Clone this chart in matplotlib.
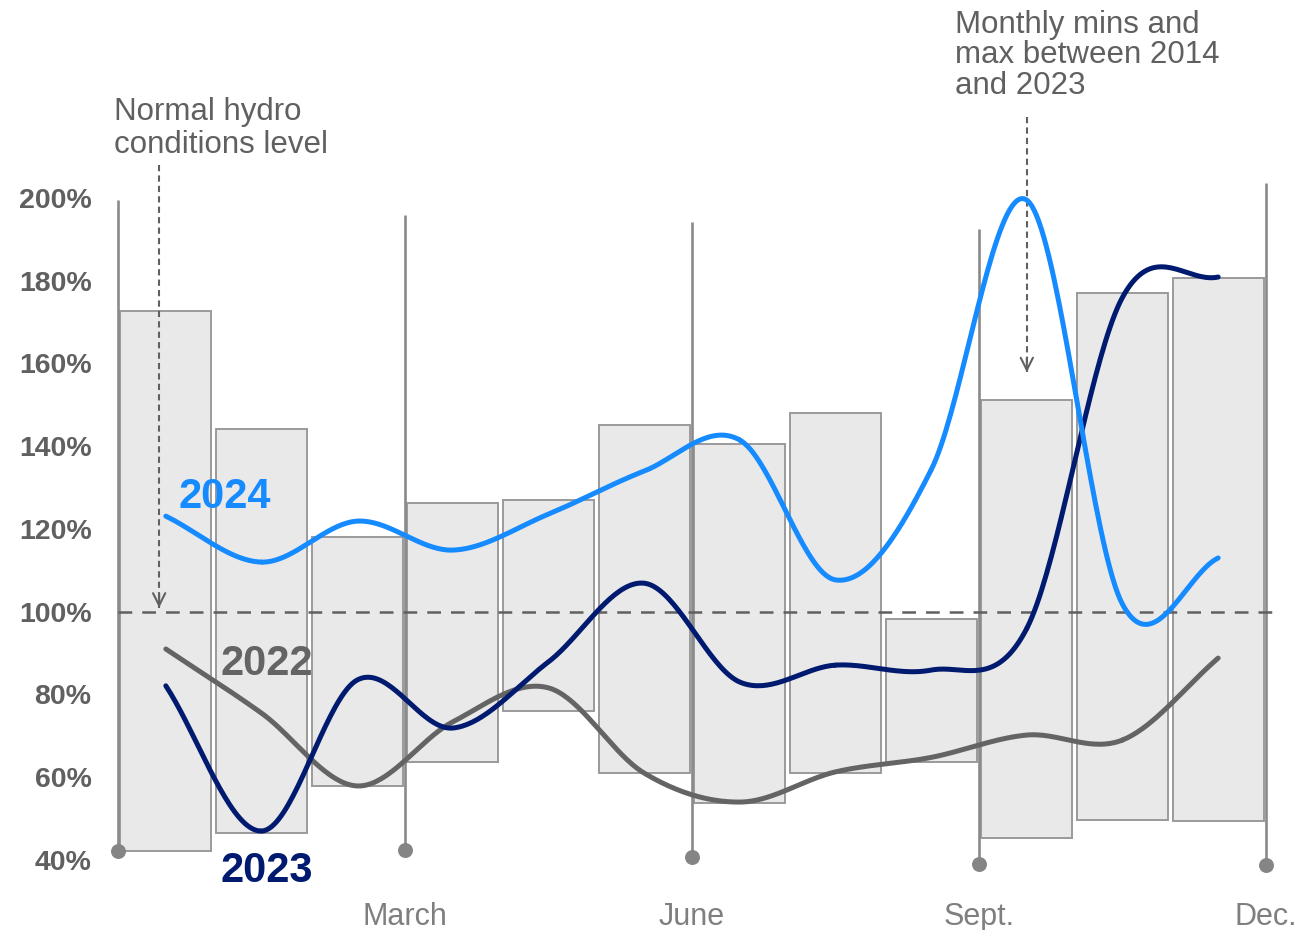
import numpy as np
import matplotlib
matplotlib.use('Agg')
import matplotlib.pyplot as plt

plt.rcParams['font.family'] = ['Liberation Sans', 'DejaVu Sans']

months = np.arange(1, 13)

# monthly range 2014-2023 (min / max, %)
range_min = [42.2, 46.5, 57.9, 63.7, 76.0, 61.0, 53.8, 61.0, 63.7, 45.3, 49.7, 49.4]
range_max = [172.7, 144.2, 118.1, 126.3, 127.0, 145.1, 140.5, 148.0, 98.2, 151.2, 177.0, 180.7]

y2022 = [91.0, 75.5, 57.9, 73.4, 81.6, 61.0, 54.0, 61.3, 64.8, 70.2, 69.0, 88.8]
y2023 = [82.1, 47.0, 83.5, 71.9, 87.9, 106.9, 83.0, 87.1, 85.9, 96.0, 176.0, 180.9]
y2024 = [123.1, 112.0, 121.9, 114.9, 123.6, 134.0, 141.5, 107.7, 134.3, 199.5, 101.8, 113.0]

quarter_pos = [0.5, 3.5, 6.5, 9.5, 12.5]
quarter_labels = ['', 'March', 'June', 'Sept.', 'Dec.']
quarter_top = [199.5, 195.9, 194.2, 192.5, 203.6]
quarter_bottom = [42.2, 42.4, 40.7, 39.0, 38.8]

yticks = [40, 60, 80, 100, 120, 140, 160, 180, 200]


def smooth(xs, ys, n=40):
    # Catmull-Rom curve through the monthly points
    x = np.asarray(xs, float)
    y = np.asarray(ys, float)
    px = np.concatenate([[2 * x[0] - x[1]], x, [2 * x[-1] - x[-2]]])
    py = np.concatenate([[2 * y[0] - y[1]], y, [2 * y[-1] - y[-2]]])
    t = np.linspace(0, 1, n)
    ox, oy = [], []
    for i in range(1, len(px) - 2):
        for p, out in ((px, ox), (py, oy)):
            p0, p1, p2, p3 = p[i - 1], p[i], p[i + 1], p[i + 2]
            out.append(0.5 * (2 * p1 + (-p0 + p2) * t
                              + (2 * p0 - 5 * p1 + 4 * p2 - p3) * t ** 2
                              + (-p0 + 3 * p1 - 3 * p2 + p3) * t ** 3))
    return np.concatenate(ox), np.concatenate(oy)


W, H = 1309, 930
fig = plt.figure(figsize=(W / 100, H / 100), dpi=100)
ax = fig.add_axes([118 / W, 1 - 860 / H, (1266 - 118) / W, (860 - 198) / H])
ax.set_xlim(0.5, 12.5)
ax.set_ylim(40, 200)
for s in ax.spines.values():
    s.set_visible(False)

# min/max boxes
heights = np.array(range_max) - np.array(range_min)
ax.bar(months, heights, bottom=range_min, width=0.95, color='#e9e9e9',
       edgecolor='#9a9a9a', linewidth=1.4, zorder=1, clip_on=False)

# quarter markers
ax.vlines(quarter_pos, quarter_bottom, quarter_top, color='#8a8a8a', lw=1.9,
          zorder=2, clip_on=False)
ax.scatter(quarter_pos, quarter_bottom, s=95, color='#858585', zorder=3, clip_on=False)

# normal level
ax.plot([0.5, 12.57], [100, 100], ls=(0, (5.5, 4)), color='#606060', lw=1.8,
        zorder=3, clip_on=False)

# series
for ys, col in ((y2022, '#646464'), (y2023, '#001a70'), (y2024, '#168bff')):
    sx, sy = smooth(months, ys)
    ax.plot(sx, sy, color=col, lw=3.6, solid_capstyle='round', zorder=4, clip_on=False)

ax.text(1.13, 123, '2024', color='#168bff', fontsize=30, fontweight='bold',
        va='bottom', ha='left')
ax.text(1.575, 82.5, '2022', color='#646464', fontsize=30, fontweight='bold',
        va='bottom', ha='left')
ax.text(1.575, 32.5, '2023', color='#001a70', fontsize=30, fontweight='bold',
        va='bottom', ha='left')

# annotations
arrow_col = '#606060'
ax.plot([0.93, 0.93], [208, 101], ls=(0, (3, 2)), color=arrow_col, lw=1.5, clip_on=False)
ax.annotate('', xy=(0.93, 100.3), xytext=(0.93, 105), annotation_clip=False,
            arrowprops=dict(arrowstyle='->', color=arrow_col, lw=1.5, mutation_scale=22))
fig.text(114 / W, 1 - 97 / H, 'Normal hydro\nconditions level', color=arrow_col,
         fontsize=22.5, va='top', ha='left', linespacing=1.15)

ax.plot([10.0, 10.0], [219.6, 158], ls=(0, (3, 2)), color=arrow_col, lw=1.5, clip_on=False)
ax.annotate('', xy=(10.0, 157.2), xytext=(10.0, 162), annotation_clip=False,
            arrowprops=dict(arrowstyle='->', color=arrow_col, lw=1.5, mutation_scale=22))
fig.text(955 / W, 1 - 10 / H, 'Monthly mins and\nmax between 2014\nand 2023', color=arrow_col,
         fontsize=22.5, va='top', ha='left', linespacing=1.02)

# ticks
ax.set_yticks(yticks)
ax.set_yticklabels([f'{v}%' for v in yticks], fontsize=20.5, fontweight='bold',
                   color='#606060')
ax.set_xticks(quarter_pos)
ax.set_xticklabels(quarter_labels, fontsize=22, color='#7f7f7f')
ax.tick_params(axis='y', length=0, pad=19)
ax.tick_params(axis='x', length=0, pad=30)

fig.savefig('out.png', dpi=100)
